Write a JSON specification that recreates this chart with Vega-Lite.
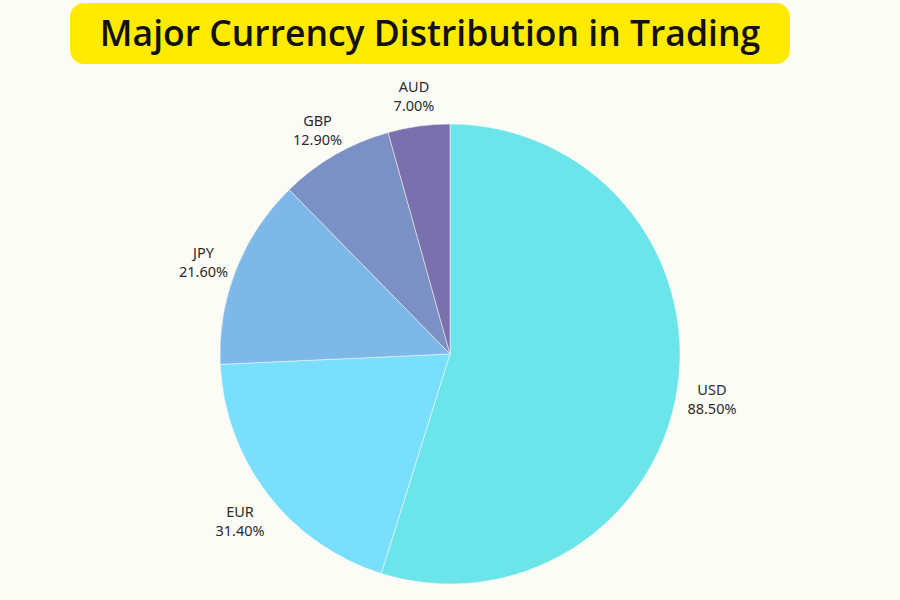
{
  "$schema": "https://vega.github.io/schema/vega-lite/v6.json",
  "background": "#fcfcf6",
  "padding": {"left": 70, "top": 3, "right": 70, "bottom": 0},
  "spacing": 0,
  "datasets": {
    "currency": [
      {"currency": "USD", "value": 88.5},
      {"currency": "EUR", "value": 31.4},
      {"currency": "JPY", "value": 21.6},
      {"currency": "GBP", "value": 12.9},
      {"currency": "AUD", "value": 7.0}
    ]
  },
  "vconcat": [
    {
      "width": 720,
      "height": 61,
      "view": {"fill": "#ffea00", "stroke": null, "cornerRadius": 14},
      "data": {"values": [{"t": "Major Currency Distribution in Trading"}]},
      "mark": {"type": "text", "font": "Open Sans", "fontWeight": 600, "fontSize": 35.5, "color": "#111111", "align": "center", "baseline": "middle", "dy": 1},
      "encoding": {"text": {"field": "t"}}
    },
    {
      "width": 760,
      "height": 580,
      "view": {"stroke": null},
      "data": {"name": "currency"},
      "transform": [
        {"calculate": "[datum.currency, format(datum.value, '.2f') + '%']", "as": "label"}
      ],
      "encoding": {
        "theta": {"field": "value", "type": "quantitative", "stack": true},
        "order": {"field": "value", "sort": "descending"}
      },
      "layer": [
        {
          "mark": {"type": "arc", "outerRadius": 230, "stroke": "#fcfcf6", "strokeWidth": 0.5},
          "encoding": {
            "color": {
              "field": "currency",
              "type": "nominal",
              "scale": {
                "domain": ["USD", "EUR", "JPY", "GBP", "AUD"],
                "range": ["#6ce5ea", "#7adffc", "#7db8e8", "#7b90c4", "#7b70ae"]
              },
              "legend": null
            }
          }
        },
        {
          "mark": {"type": "text", "radius": 265, "font": "Noto Sans", "fontSize": 14.5, "color": "#2b2b2b", "lineHeight": 19, "baseline": "middle", "dy": -3},
          "encoding": {"text": {"field": "label"}}
        }
      ]
    }
  ]
}
